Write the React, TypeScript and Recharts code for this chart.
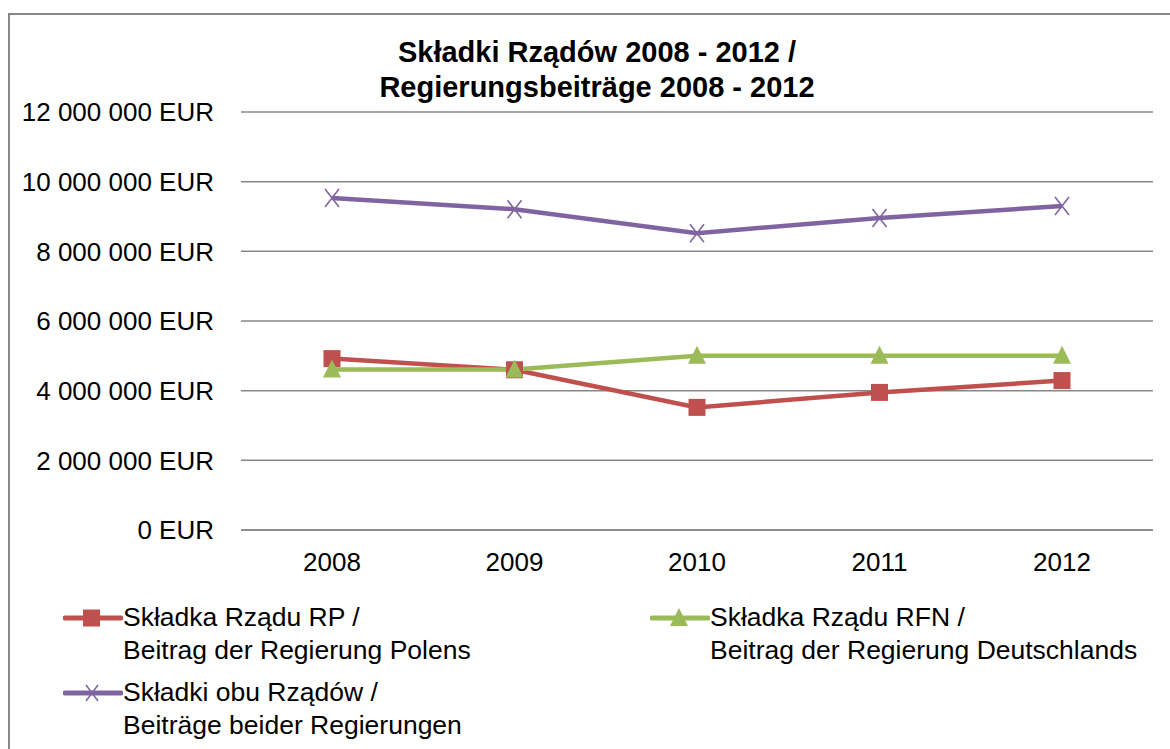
import React from 'react';
import { LineChart, Line, XAxis, YAxis, CartesianGrid } from 'recharts';

const years = ['2008', '2009', '2010', '2011', '2012'];
const poland = [4920000, 4600000, 3520000, 3950000, 4290000];
const germany = [4610000, 4610000, 5000000, 5000000, 5000000];
const both = [9530000, 9210000, 8520000, 8960000, 9300000];
const yTicks = [0, 2000000, 4000000, 6000000, 8000000, 10000000, 12000000];

const titleLines = ['Składki Rządów 2008 - 2012 /', 'Regierungsbeiträge 2008 - 2012'];
const legendPl = ['Składka Rządu RP /', 'Beitrag der Regierung Polens'];
const legendDe = ['Składka Rządu RFN /', 'Beitrag der Regierung Deutschlands'];
const legendBoth = ['Składki obu Rządów /', 'Beiträge beider Regierungen'];

const RED = '#C0504D';
const GREEN = '#9BBB59';
const PURPLE = '#8064A2';
const GRID = '#878787';
const FONT = '"Liberation Sans", Arial, sans-serif';

const data = years.map((y, i) => ({ year: y, pl: poland[i], de: germany[i], both: both[i] }));

const fmt = (v: number) => v.toString().replace(/\B(?=(\d{3})+(?!\d))/g, ' ') + ' EUR';

const SquareDot = (props: any) => {
  const { cx, cy, index } = props;
  return <rect key={'s' + index} x={cx - 8.5} y={cy - 8.5} width={17} height={17} fill={RED} />;
};

const TriangleDot = (props: any) => {
  const { cx, cy, index } = props;
  return (
    <polygon
      key={'t' + index}
      points={`${cx},${cy - 10} ${cx + 9},${cy + 8} ${cx - 9},${cy + 8}`}
      fill={GREEN}
    />
  );
};

const CrossDot = (props: any) => {
  const { cx, cy, index } = props;
  return (
    <g key={'c' + index} stroke={PURPLE} strokeWidth={1.6}>
      <line x1={cx - 7} y1={cy - 9} x2={cx + 7} y2={cy + 9} />
      <line x1={cx + 7} y1={cy - 9} x2={cx - 7} y2={cy + 9} />
    </g>
  );
};

const LegendIcon = ({ kind }: { kind: string }) => (
  <svg width={60} height={24} style={{ position: 'absolute', left: -60, top: 5 }}>
    <line x1={2} y1={12} x2={58} y2={12} strokeWidth={5} strokeLinecap="round"
      stroke={kind === 'pl' ? RED : kind === 'de' ? GREEN : PURPLE} />
    {kind === 'pl' && <rect x={20} y={3.5} width={17} height={17} fill={RED} />}
    {kind === 'de' && <polygon points="29,2 38,20 20,20" fill={GREEN} />}
    {kind === 'both' && (
      <g stroke={PURPLE} strokeWidth={1.6}>
        <line x1={23} y1={4} x2={35} y2={20} />
        <line x1={35} y1={4} x2={23} y2={20} />
      </g>
    )}
  </svg>
);

const LegendItem = ({ kind, lines, left, top }: { kind: string; lines: string[]; left: number; top: number }) => (
  <div style={{ position: 'absolute', left, top, fontSize: 26.5, lineHeight: '33px', color: '#000' }}>
    <LegendIcon kind={kind} />
    {lines.map((l) => (
      <div key={l} style={{ whiteSpace: 'nowrap' }}>{l}</div>
    ))}
  </div>
);

export default function App() {
  return (
    <div style={{ position: 'absolute', left: 0, top: 0, width: 1170, height: 749, overflow: 'hidden', background: '#fff', fontFamily: FONT }}>
      <div style={{ position: 'absolute', left: 8, top: 13, width: 1200, height: 800, border: `2px solid ${GRID}`, boxSizing: 'border-box' }} />
      <div style={{ position: 'absolute', left: 8, top: 35, width: 1178, textAlign: 'center', fontWeight: 'bold', fontSize: 29, lineHeight: '35px', color: '#000' }}>
        {titleLines.map((t) => (
          <div key={t}>{t}</div>
        ))}
      </div>
      <div style={{ position: 'absolute', left: 0, top: 0 }}>
        <LineChart width={1170} height={749} data={data} margin={{ top: 112, right: 17, left: 0, bottom: 159 }}>
          <CartesianGrid vertical={false} stroke={GRID} strokeWidth={1.5} />
          <XAxis dataKey="year" height={60} tickLine={false} tickSize={0} tickMargin={23}
            padding={{ left: 91, right: 91 }}
            axisLine={{ stroke: GRID, strokeWidth: 1.5 }}
            tick={{ fill: '#000', fontSize: 26, fontFamily: FONT }} />
          <YAxis width={241} domain={[0, 12000000]} ticks={yTicks} tickFormatter={fmt}
            axisLine={false} tickLine={false} tickSize={0} tickMargin={27} interval={0}
            tick={{ fill: '#000', fontSize: 26, fontFamily: FONT }} />
          <Line dataKey="pl" stroke={RED} strokeWidth={4.5} dot={SquareDot} isAnimationActive={false} />
          <Line dataKey="de" stroke={GREEN} strokeWidth={4.5} dot={TriangleDot} isAnimationActive={false} />
          <Line dataKey="both" stroke={PURPLE} strokeWidth={4.5} dot={CrossDot} isAnimationActive={false} />
        </LineChart>
      </div>
      <LegendItem kind="pl" lines={legendPl} left={123} top={601} />
      <LegendItem kind="de" lines={legendDe} left={710} top={601} />
      <LegendItem kind="both" lines={legendBoth} left={123} top={676} />
    </div>
  );
}
